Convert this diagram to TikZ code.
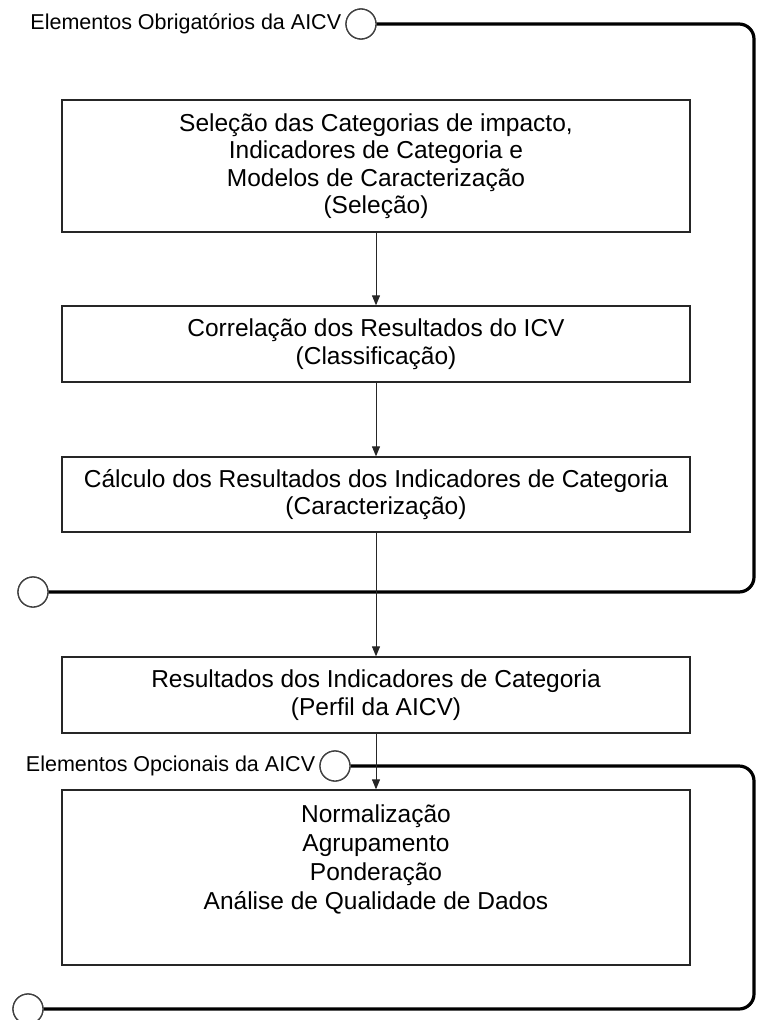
\documentclass[tikz,border=0pt]{standalone}
\usepackage{fontspec}
\setmainfont{Liberation Sans}
\usetikzlibrary{arrows.meta}
\begin{document}
\begin{tikzpicture}[x=1pt,y=-1pt,
  stagebox/.style={draw=black!85, line width=1.3pt, minimum width=628pt, inner sep=0pt,
    align=center, font=\fontsize{24.5}{27.5}\selectfont, text=black},
  boxtext/.style={align=center, inner sep=0pt, font=\fontsize{24.5}{29}\selectfont, text=black},
  flow/.style={draw=black!85, line width=1pt, -{Triangle[length=10pt,width=8pt]}},
  bracket/.style={draw=black, line width=3.2pt, rounded corners=15pt},
  port/.style={circle, draw=black!75, line width=1.3pt, fill=white, minimum size=30pt, inner sep=0pt},
  tag/.style={font=\fontsize{21.5}{25}\selectfont, anchor=east, inner sep=0pt, text=black}
]
\useasboundingbox (0,0) rectangle (757,1020);

% stages of the assessment
\node[stagebox, minimum height=132pt] (b1) at (376,166)
  {Seleção das Categorias de impacto,\\Indicadores de Categoria e\\Modelos de Caracterização\\(Seleção)};
\node[stagebox, minimum height=76pt] (b2) at (376,344)
  {Correlação dos Resultados do ICV\\(Classificação)};
\node[stagebox, minimum height=75pt] (b3) at (376,494.5)
  {Cálculo dos Resultados dos Indicadores de Categoria\\(Caracterização)};
\node[stagebox, minimum height=76pt] (b4) at (376,695)
  {Resultados dos Indicadores de Categoria\\(Perfil da AICV)};
\node[stagebox, minimum height=175pt] (b5) at (376,877.5) {};
\node[boxtext, anchor=north] (t5) at ([yshift=-15pt]b5.north)
  {Normalização\\Agrupamento\\Ponderação\\Análise de Qualidade de Dados};

% bracket end points
\node[port] (p1) at (361,24) {};
\node[port] (p2) at (33,592) {};
\node[port] (p3) at (335,766) {};
\node[port] (p4) at (28,1009) {};
\coordinate (r1) at (754,24);
\coordinate (r2) at (754,592);
\coordinate (r3) at (754,766);
\coordinate (r4) at (754,1009);

% brackets grouping mandatory and optional elements
\draw[bracket] (p1.east) -- (r1) -- (r2) -- (p2.east);
\draw[bracket] (p3.east) -- (r3) -- (r4) -- (p4.east);
\node[port] at (p1) {};
\node[port] at (p2) {};
\node[port] at (p3) {};
\node[port] at (p4) {};

\node[tag] (l1) at ([xshift=-4pt]p1.west) {Elementos Obrigatórios da AICV};
\node[tag] (l3) at ([xshift=-4pt]p3.west) {Elementos Opcionais da AICV};

% flow between stages
\draw[flow] (b1.south) -- (b2.north);
\draw[flow] (b2.south) -- (b3.north);
\draw[flow] (b3.south) -- (b4.north);
\draw[flow] (b4.south) -- (b5.north);
\end{tikzpicture}
\end{document}
